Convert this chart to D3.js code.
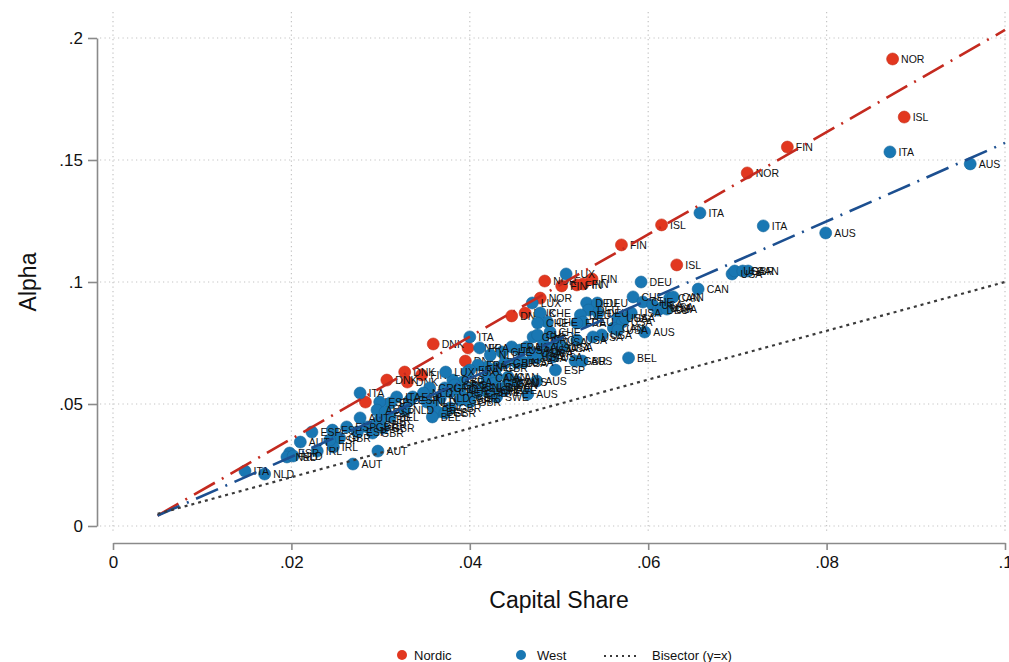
<!DOCTYPE html>
<html><head><meta charset="utf-8">
<script src="https://cdn.jsdelivr.net/npm/d3@7"></script>
<style>
body{margin:0;background:#fff}
svg{display:block}
text{font-family:"Liberation Sans",Arial,Helvetica,sans-serif}
</style>
</head><body>
<svg id="chart" width="1009" height="662"></svg>
<script>
// ---- data ----
const xTicks = [0, 0.02, 0.04, 0.06, 0.08, 0.1];
const yTicks = [0, 0.05, 0.1, 0.15, 0.2];
const xTickLabels = ["0", ".02", ".04", ".06", ".08", ".1"];
const yTickLabels = ["0", ".05", ".1", ".15", ".2"];

const nordicX = [0.0874,0.0887,0.0756,0.0711,0.0615,0.0570,0.0632,0.0537,0.0527,0.0520,0.0503,0.0484,0.0479,0.0462,0.0447,0.0398,0.0395,0.0359,0.0346,0.0327,0.0330,0.0307,0.0283];
const nordicY = [0.1914,0.1676,0.1553,0.1447,0.1234,0.1152,0.1070,0.1012,0.0992,0.0988,0.0984,0.1004,0.0934,0.0873,0.0861,0.0730,0.0676,0.0746,0.0619,0.0631,0.0590,0.0598,0.0508];
const nordicLabels = ["NOR","ISL","FIN","NOR","ISL","FIN","ISL","FIN","FIN","FIN","FIN","NOR","NOR","DNK","DNK","DNK","DNK","DNK","FIN","DNK","DNK","DNK","SWE"];

const westX = [0.0871,0.0961,0.0658,0.0729,0.0799,0.0694,0.0697,0.0706,0.0712,0.0656,
0.0592,0.0583,0.0594,0.0605,0.0617,0.0624,0.0628,0.0611,0.0615,0.0621,
0.0581,0.0566,0.0571,0.0561,0.0566,0.0596,0.0578,0.0548,0.0508,0.0470,
0.0531,0.0543,0.0533,0.0544,0.0524,0.0527,0.0520,0.0574,0.0479,0.0487,
0.0476,0.0490,0.0471,0.0482,0.0498,0.0520,0.0538,0.0504,0.0487,0.0482,
0.0471,0.0460,0.0493,0.0518,0.0526,0.0496,0.0475,0.0465,0.0400,0.0411,
0.0423,0.0436,0.0447,0.0456,0.0464,0.0476,0.0501,0.0481,0.0470,0.0453,
0.0475,0.0439,0.0430,0.0419,0.0409,0.0400,0.0419,0.0430,0.0443,0.0442,
0.0453,0.0428,0.0439,0.0415,0.0404,0.0425,0.0392,0.0381,0.0389,0.0378,
0.0373,0.0397,0.0383,0.0372,0.0355,0.0348,0.0336,0.0333,0.0352,0.0367,
0.0389,0.0397,0.0408,0.0420,0.0432,0.0443,0.0430,0.0400,0.0359,0.0364,
0.0358,0.0378,0.0372,0.0318,0.0311,0.0299,0.0296,0.0305,0.0311,0.0299,
0.0294,0.0303,0.0291,0.0327,0.0277,0.0277,0.0262,0.0274,0.0285,0.0254,
0.0247,0.0243,0.0223,0.0246,0.0210,0.0198,0.0195,0.0202,0.0229,0.0170,
0.0148,0.0297,0.0269];
const westY = [0.1533,0.1484,0.1283,0.1230,0.1201,0.1033,0.1045,0.1045,0.1045,0.0971,
0.1000,0.0939,0.0918,0.0906,0.0898,0.0934,0.0939,0.0885,0.0893,0.0889,
0.0873,0.0852,0.0836,0.0811,0.0803,0.0795,0.0689,0.0783,0.1033,0.0914,
0.0914,0.0914,0.0885,0.0873,0.0865,0.0836,0.0832,0.0852,0.0873,0.0836,
0.0832,0.0795,0.0775,0.0762,0.0754,0.0762,0.0775,0.0734,0.0730,0.0709,
0.0693,0.0672,0.0693,0.0676,0.0676,0.0639,0.0594,0.0541,0.0775,0.0730,
0.0701,0.0713,0.0734,0.0721,0.0734,0.0783,0.0730,0.0721,0.0709,0.0668,
0.0689,0.0668,0.0648,0.0652,0.0660,0.0639,0.0607,0.0611,0.0611,0.0578,
0.0590,0.0586,0.0557,0.0570,0.0566,0.0557,0.0590,0.0598,0.0557,0.0549,
0.0631,0.0631,0.0578,0.0566,0.0566,0.0545,0.0529,0.0516,0.0508,0.0525,
0.0516,0.0525,0.0545,0.0549,0.0566,0.0586,0.0529,0.0508,0.0488,0.0467,
0.0447,0.0484,0.0463,0.0529,0.0504,0.0508,0.0475,0.0467,0.0447,0.0434,
0.0414,0.0402,0.0381,0.0475,0.0545,0.0443,0.0406,0.0385,0.0406,0.0361,
0.0324,0.0352,0.0385,0.0393,0.0344,0.0299,0.0283,0.0287,0.0307,0.0213,
0.0225,0.0307,0.0254];
const westLabels = ["ITA","AUS","ITA","ITA","AUS","USA","USA","GBR","CAN","CAN",
"DEU","CHE","CHE","USA","USA","CAN","CAN","DEU","USA","USA",
"USA","USA","USA","CAN","USA","AUS","BEL","USA","LUX","LUX",
"DEU","DEU","DEU","DEU","DEU","DEU","FRA","USA","CHE","CHE",
"CHE","CHE","GRC","GRC","USA","USA","USA","USA","USA","USA",
"USA","USA","USA","GBR","AUS","ESP","AUS","AUS","ITA","FRA",
"NLD","CHE","FRA","USA","USA","CHE","USA","USA","USA","USA",
"USA","GBR","GBR","NLD","FRA","FRA","CAN","CAN","CAN","CAN",
"AUS","GBR","SWE","NLD","BEL","CHE","FRA","GRC","CHE","CHE",
"LUX","LUX","GRC","GRC","GRC","NLD","ESP","ESP","NLD","NLD",
"GBR","GBR","CHE","SWE","SWE","CAN","SWE","GBR","BEL","BEL",
"BEL","GBR","GBR","ITA","ESP","ESP","AUT","ESP","BEL","GBR",
"GBR","GBR","GBR","NLD","ITA","AUT","ESP","ESP","GBR","GBR",
"IRL","ESP","ESP","ESP","AUT","ESP","NED","NLD","IRL","NLD",
"ITA","AUT","AUT"];

// fitted lines (intercept, slope) and their plotted range
const fitRange = [0.005, 0.1];
const nordicFit = [-0.0062, 2.095];
const westFit = [-0.0038, 1.608];
const bisectorFit = [0, 1];

const legendLabels = ["Nordic", "West", "Bisector (y=x)"];

// ---- drawing ----
const colRed = "#e2371f", colBlue = "#1977b3";
const colRedLine = "#c42a1f", colBlueLine = "#1c4f90";

const svg = d3.select("#chart");
svg.append("rect").attr("width",1009).attr("height",662).attr("fill","#fff");

const x = d3.scaleLinear().domain([0, 0.1]).range([113, 1005]);
const y = d3.scaleLinear().domain([0, 0.2]).range([526, 38]);

// grid
const grid = svg.append("g");
grid.selectAll("line.h").data(yTicks).join("line")
  .attr("x1", 100).attr("x2", 1009)
  .attr("y1", d => y(d)).attr("y2", d => y(d))
  .attr("stroke", "#c4c4c4").attr("stroke-width", 1.2).attr("stroke-dasharray", "1.2,3.3");
grid.selectAll("line.v").data(xTicks).join("line")
  .attr("y1", 12).attr("y2", 532)
  .attr("x1", d => x(d)).attr("x2", d => x(d))
  .attr("stroke", "#c4c4c4").attr("stroke-width", 1.2).attr("stroke-dasharray", "1.2,3.3");

// axes
const yAxis = d3.axisLeft(y).tickValues(yTicks)
  .tickFormat((d,i) => yTickLabels[i]).tickSize(9).tickSizeOuter(0).tickPadding(5);
const gy = svg.append("g").attr("transform", "translate(97,0)").call(yAxis);
const xAxis = d3.axisBottom(x).tickValues(xTicks)
  .tickFormat((d,i) => xTickLabels[i]).tickSize(7).tickSizeOuter(0).tickPadding(6);
const gx = svg.append("g").attr("transform", "translate(0,543)").call(xAxis);
[gx, gy].forEach(g => {
  g.select(".domain").attr("stroke", "#8a8a8a").attr("stroke-width", 1.6);
  g.selectAll(".tick line").attr("stroke", "#8a8a8a").attr("stroke-width", 1.6);
  g.selectAll(".tick text").attr("font-size", 17).attr("fill", "#111")
    .style("font-family", '"Liberation Sans",Arial,sans-serif');
});

// axis titles
svg.append("text").attr("x", 559).attr("y", 608).attr("text-anchor", "middle")
  .attr("font-size", 23).attr("fill", "#111").text("Capital Share");
svg.append("text").attr("transform", "translate(36,282) rotate(-90)")
  .attr("text-anchor", "middle").attr("font-size", 23).attr("fill", "#111").text("Alpha");

// scatter series
function drawSeries(xs, ys, labs, color) {
  const data = xs.map((v, i) => ({x: v, y: ys[i], l: labs[i]}));
  const g = svg.append("g");
  g.selectAll("circle").data(data).join("circle")
    .attr("cx", d => x(d.x)).attr("cy", d => y(d.y)).attr("r", 6)
    .attr("fill", color).attr("stroke", d3.color(color).darker(0.4)).attr("stroke-width", 0.6);
  g.selectAll("text").data(data).join("text")
    .attr("x", d => x(d.x) + 8.5).attr("y", d => y(d.y) + 4)
    .attr("font-size", 10.5).attr("fill", "#111").text(d => d.l);
}
drawSeries(nordicX, nordicY, nordicLabels, colRed);
drawSeries(westX, westY, westLabels, colBlue);

// lines
const lineGen = d3.line().x(d => x(d[0])).y(d => y(d[1]));
function fitPts(f) { return fitRange.map(v => [v, f[0] + f[1] * v]); }
svg.append("path").attr("d", lineGen(fitPts(nordicFit))).attr("fill", "none")
  .attr("stroke", colRedLine).attr("stroke-width", 2.6).attr("stroke-dasharray", "24,8,2,8");
svg.append("path").attr("d", lineGen(fitPts(westFit))).attr("fill", "none")
  .attr("stroke", colBlueLine).attr("stroke-width", 2.6).attr("stroke-dasharray", "24,8,2,8");
svg.append("path").attr("d", lineGen(fitPts(bisectorFit))).attr("fill", "none")
  .attr("stroke", "#3a3a3a").attr("stroke-width", 2.2).attr("stroke-dasharray", "3,4");

// legend
const lg = svg.append("g").attr("font-size", 13).attr("fill", "#111");
lg.append("circle").attr("cx", 402).attr("cy", 655).attr("r", 5).attr("fill", colRed);
lg.append("text").attr("x", 414).attr("y", 660).text(legendLabels[0]);
lg.append("circle").attr("cx", 521).attr("cy", 655).attr("r", 5).attr("fill", colBlue);
lg.append("text").attr("x", 537).attr("y", 660).text(legendLabels[1]);
lg.append("line").attr("x1", 604).attr("x2", 638).attr("y1", 656).attr("y2", 656)
  .attr("stroke", "#3a3a3a").attr("stroke-width", 2).attr("stroke-dasharray", "2,4");
lg.append("text").attr("x", 652).attr("y", 660).text(legendLabels[2]);
</script>
</body></html>
